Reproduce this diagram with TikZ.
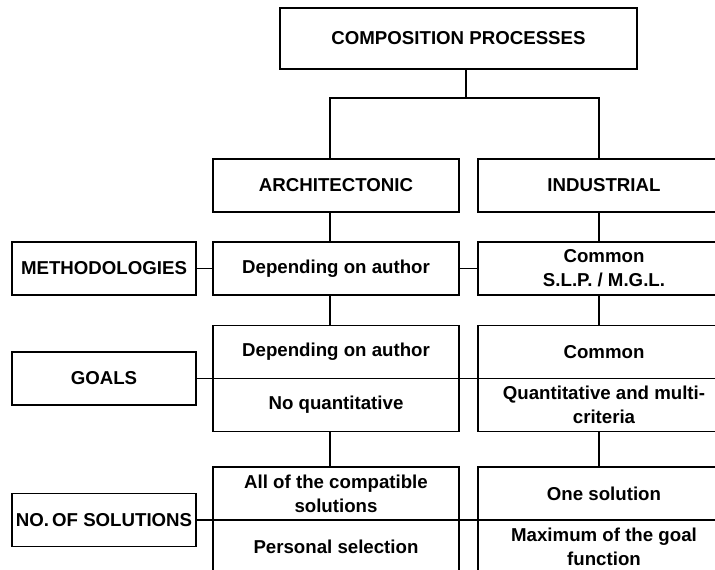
\documentclass[tikz,border=0pt]{standalone}
\usepackage{fontspec}
\setmainfont{Liberation Sans}
\usetikzlibrary{calc}

\begin{document}
\begin{tikzpicture}[x=0.75pt, y=-0.75pt, line width=1.3pt,
    caja/.style={draw, rectangle, inner sep=1pt, align=center, font=\bfseries\fontsize{14}{18}\selectfont, minimum height=39.75pt},
    etiqueta/.style={caja, minimum width=138pt},
    arqcaja/.style={caja, minimum width=184.5pt},
    indcaja/.style={caja, minimum width=189pt}]
  \useasboundingbox (0,0) rectangle (715,570);
  \clip (0,0) rectangle (715,570);
  \coordinate (topx) at (466,0);	% ramas
  \coordinate (archx) at (330,0);
  \coordinate (indx) at (599,0);
  \coordinate (rightx) at (740,0);
  \node [caja, minimum width=267.75pt, minimum height=45.75pt] (title) at (458.5,38.5) {COMPOSITION PROCESSES};
  \node [arqcaja] (arch) at (336,185.5) {ARCHITECTONIC};
  \node [indcaja] (ind) at (604,185.5) {INDUSTRIAL};
  % metodologias
  \node [etiqueta] (methL) at (104,268.5) {METHODOLOGIES};
  \node [arqcaja] (archM) at (336,268.5) {Depending on author};
  \node [indcaja] (indM) at (604,268.5) {Common\\S.L.P. / M.G.L.};
  % objetivos
  \node [etiqueta] (goalL) at (104,378.5) {GOALS};
  \node [arqcaja] (archGa) at (336,352) {Depending on author};
  \node [arqcaja] (archGb) at (336,405) {No quantitative};
  \node [indcaja] (indGa) at (604,352) {Common};
  \node [indcaja] (indGb) at (604,405) {Quantitative and multi-\\criteria};
  % soluciones
  \node [etiqueta] (solL) at (104,520) {NO.\,OF SOLUTIONS};
  \node [arqcaja] (archSa) at (336,493.5) {All of the compatible\\solutions};
  \node [arqcaja] (archSb) at (336,546.5) {Personal selection};
  \node [indcaja] (indSa) at (604,493.5) {One solution};
  \node [indcaja] (indSb) at (604,546.5) {Maximum of the goal\\function};
  % conexiones
  \draw (title.south -| topx) -- ++(0,28) coordinate (fork);
  \draw (arch.north -| archx) |- (fork) -| (ind.north -| indx);
  \foreach \a/\b in {arch/archM, archM/archGa, archGb/archSa}
    \draw (\a.south -| archx) -- (\b.north -| archx);
  \foreach \a/\b in {ind/indM, indM/indGa, indGb/indSa}
    \draw (\a.south -| indx) -- (\b.north -| indx);
  \draw (methL) -- (archM);
  \draw (archM) -- (indM);
  \draw (goalL.east) -- (goalL.east -| rightx);	% divide las cajas
  \draw (solL.east) -- (solL.east -| rightx);
\end{tikzpicture}
\end{document}
